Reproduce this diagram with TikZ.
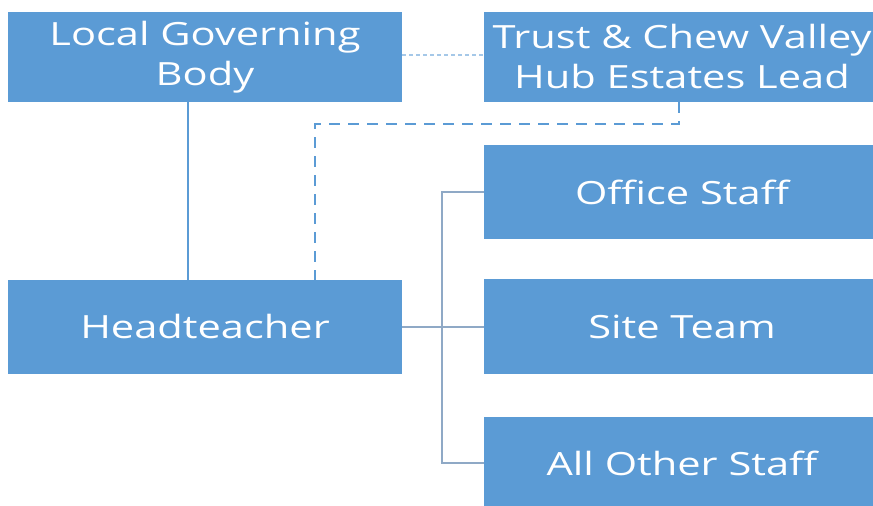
\documentclass[tikz,border=0pt]{standalone}
\usepackage{fontspec}
\setmainfont{Open Sans}
\newfontfamily\boxfont[FakeStretch=1.3]{Open Sans}
\usetikzlibrary{positioning}

\definecolor{boxblue}{HTML}{5B9BD5}
\definecolor{linkgrey}{HTML}{8FA9C6}

\begin{document}
\begin{tikzpicture}[x=1pt,y=1pt,
    rolebox/.style={fill=boxblue, draw=none, text=white, align=center,
      minimum width=396pt, minimum height=90pt, inner sep=0pt,
      font=\boxfont\fontsize{32}{40}\selectfont},
    line/.style={boxblue, line width=2.5pt},
    bracket/.style={linkgrey, line width=1.3pt},
    dashline/.style={boxblue, line width=2.3pt, dash pattern=on 11pt off 8pt},
    dotline/.style={boxblue!55, line width=1.5pt, dash pattern=on 4pt off 3pt}]
    \useasboundingbox (0,0) rectangle (873,506);
    \node[rolebox, minimum width=394pt] (lgb) at (205,449) {Local Governing\\Body};
    \node[rolebox] (trust) at (682,449) {Trust \& Chew Valley\\Hub Estates Lead};
    \node[rolebox, minimum width=394pt, minimum height=94pt] (head) at (205,179) {Headteacher};
    \node[rolebox, minimum height=94pt] (office) at (682,314) {Office Staff};
    \node[rolebox, minimum height=95pt] (site) at (682,179.5) {Site Team};
    \node[rolebox, minimum height=92pt] (other) at (682,43) {All Other Staff};

    % links
    \coordinate (split) at (442,179);
    \coordinate (hdash) at (315,382);
    \draw[dotline] (lgb.east |- 0,451) -- (trust.west |- 0,451);
    \draw[line] (lgb.south -| 188,0) -- (head.north -| 188,0);
    \draw[dashline] (trust.south -| 679,0) |- (hdash) -- (head.north -| hdash);
    \draw[bracket] (head.east) -- (site.west |- head.east);
    \draw[bracket] (office.west) -| (split) |- (other.west);
\end{tikzpicture}
\end{document}
